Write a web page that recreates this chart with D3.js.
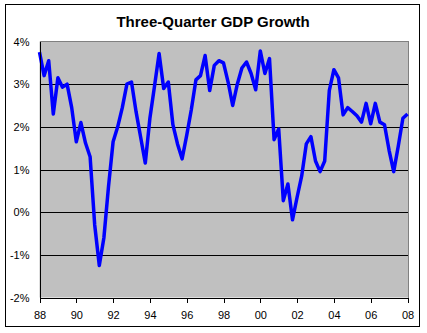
<!DOCTYPE html>
<html><head><meta charset="utf-8">
<script src="https://cdn.jsdelivr.net/npm/d3@7"></script>
<style>
html,body{margin:0;padding:0;background:#fff;}
svg{display:block;font-family:"Liberation Sans",Arial,sans-serif;}
</style></head>
<body><svg id="c" width="427" height="333"></svg>
<script>
const title = "Three-Quarter GDP Growth";
const xTickLabels = ["88","90","92","94","96","98","00","02","04","06","08"];
const yTickValues = [-2,-1,0,1,2,3,4];
// Quarterly three-quarter GDP growth (%), 1988Q1 .. 2008Q1
const growth = [
 3.75,3.2,3.55,2.3, 3.15,2.93,3.0,2.45, 1.65,2.1,1.62,1.3, -0.3,-1.25,-0.6,0.6,
 1.65,2.0,2.45,3.0, 3.05,2.35,1.75,1.15, 2.2,2.95,3.72,2.9, 3.05,2.05,1.6,1.25,
 1.8,2.4,3.1,3.2, 3.67,2.85,3.44,3.55, 3.5,3.05,2.5,3.0, 3.38,3.52,3.25,2.87,
 3.78,3.25,3.6,1.7, 1.95,0.27,0.66,-0.18, 0.35,0.85,1.6,1.77, 1.2,0.95,1.2,2.85,
 3.34,3.15,2.28,2.45, 2.36,2.26,2.11,2.55, 2.07,2.55,2.11,2.05, 1.45,0.95,1.55,2.2,
 2.3
];

const svg = d3.select("#c");
const L = 39.5, R = 408.5, T = 41.5, B = 297.5;

// outer chart border
svg.append("rect").attr("x",5.5).attr("y",4.5).attr("width",414).attr("height",322)
  .attr("fill","#fff").attr("stroke","#000").attr("stroke-width",1);

svg.append("text").attr("x",213).attr("y",27).attr("text-anchor","middle")
  .attr("font-size",15).attr("font-weight","bold").text(title);

const x = d3.scaleLinear().domain([0, growth.length-1]).range([L, R-1]);
const y = d3.scaleLinear().domain([-2,4]).range([B, T]);

// plot area
svg.append("rect").attr("x",L).attr("y",T).attr("width",R-L).attr("height",B-T)
  .attr("fill","#c0c0c0");

// gridlines
svg.append("g").selectAll("line").data(yTickValues.filter(v=>v>-2 && v<4)).join("line")
  .attr("x1",L).attr("x2",R).attr("y1",d=>Math.round(y(d))+0.5).attr("y2",d=>Math.round(y(d))+0.5)
  .attr("stroke","#000").attr("stroke-width",1).attr("shape-rendering","crispEdges");

// plot border top/right (gray)
svg.append("path").attr("d",`M${L},${T}H${R}V${B}`).attr("fill","none").attr("stroke","#808080")
  .attr("shape-rendering","crispEdges");

// line
const line = d3.line().x((d,i)=>x(i)).y(d=>y(d));
svg.append("path").datum(growth).attr("d",line).attr("fill","none")
  .attr("stroke","#0000ff").attr("stroke-width",3.5).attr("stroke-linejoin","round");

// y axis
const yAxis = d3.axisLeft(y).tickValues(yTickValues).tickSize(0).tickPadding(10)
  .tickFormat(d=>d+"%");
const gy = svg.append("g").attr("transform",`translate(${L},0)`).call(yAxis);
gy.select(".domain").attr("stroke","#000").attr("shape-rendering","crispEdges");
gy.selectAll("text").attr("font-size",11).attr("font-family","Liberation Sans, Arial, sans-serif").attr("fill","#000");

// x axis
const xAxis = d3.axisBottom(x).tickValues(d3.range(0, growth.length, 8)).tickSizeInner(5).tickSizeOuter(0)
  .tickPadding(9).tickFormat((d,i)=>xTickLabels[i]);
const gx = svg.append("g").attr("transform",`translate(0,${B})`).call(xAxis);
gx.select(".domain").attr("stroke","#000").attr("shape-rendering","crispEdges");
gx.selectAll("line").attr("stroke","#000").attr("shape-rendering","crispEdges");
gx.selectAll("text").attr("font-size",11).attr("font-family","Liberation Sans, Arial, sans-serif").attr("fill","#000");
</script></body></html>
